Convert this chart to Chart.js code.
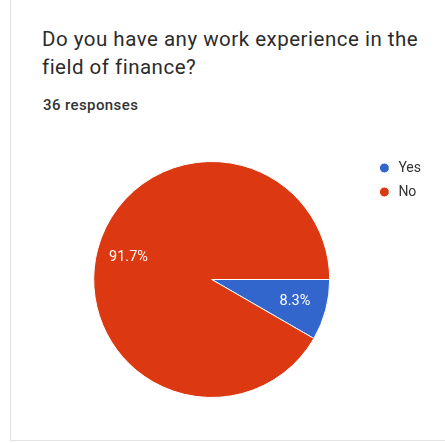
<!DOCTYPE html>
<html>
<head>
<meta charset="utf-8">
<script src="https://cdn.jsdelivr.net/npm/chart.js@4"></script>
<style>
    html, body { margin: 0; padding: 0; background: #fff; }
    body { width: 445px; height: 443px; position: relative; overflow: hidden; font-family: Roboto, "Noto Sans", sans-serif; }
    .card { position: absolute; left: 10px; top: -5px; width: 500px; height: 445px; border-left: 1px solid #e2e2e2; border-bottom: 1px solid #e2e2e2; }
    .question { position: absolute; left: 42px; top: 25px; width: 385px; font-size: 20.5px; letter-spacing: 0.5px; line-height: 28px; color: #2b2b2b; }
    .count { position: absolute; left: 43px; top: 96px; font-size: 15px; letter-spacing: 0.4px; font-weight: 500; color: #333; }
    #pie { position: absolute; left: 0; top: 140px; }
</style>
</head>
<body>
<div class="card"></div>
<div class="question">Do you have any work experience in the field of finance?</div>
<div class="count">36 responses</div>
<canvas id="pie" width="445" height="280"></canvas>
<script>
    const answers = ['Yes', 'No'];
    const responses = [3, 33];
    const palette = ['#3366cc', '#dc3912'];

    const total = responses.reduce((a, b) => a + b, 0);

    // percentage text placed along each slice's middle angle
    const sliceLabels = {
        id: 'sliceLabels',
        afterDatasetsDraw(chart) {
            const ctx = chart.ctx;
            const meta = chart.getDatasetMeta(0);
            ctx.save();
            ctx.font = '14.5px Roboto, sans-serif';
            ctx.fillStyle = '#ffffff';
            ctx.textAlign = 'center';
            ctx.textBaseline = 'middle';
            meta.data.forEach((arc, i) => {
                const p = arc.getProps(['x', 'y', 'startAngle', 'endAngle', 'outerRadius'], true);
                const mid = (p.startAngle + p.endAngle) / 2;
                const r = p.outerRadius * 0.73;
                const text = (responses[i] / total * 100).toFixed(1) + '%';
                ctx.fillText(text, p.x + Math.cos(mid) * r, p.y + Math.sin(mid) * r);
            });
            ctx.restore();
        }
    };

    const ctxPie = document.getElementById('pie').getContext('2d');
    const chart = new Chart(ctxPie, {
        type: 'pie',
        data: {
            labels: answers,
            datasets: [{
                data: responses,
                backgroundColor: palette,
                borderColor: '#ffffff',
                borderWidth: 1,
                radius: 118
            }]
        },
        options: {
            responsive: false,
            animation: false,
            rotation: 90,
            layout: {
                padding: { left: 56, right: 14, top: 11, bottom: 12 }
            },
            plugins: {
                tooltip: { enabled: false },
                legend: {
                    position: 'right',
                    align: 'start',
                    labels: {
                        usePointStyle: true,
                        pointStyle: 'circle',
                        boxWidth: 14,
                        boxHeight: 7,
                        padding: 10,
                        color: '#333',
                        font: { family: 'Roboto, sans-serif', size: 14 }
                    }
                }
            }
        },
        plugins: [sliceLabels]
    });
</script>
</body>
</html>
